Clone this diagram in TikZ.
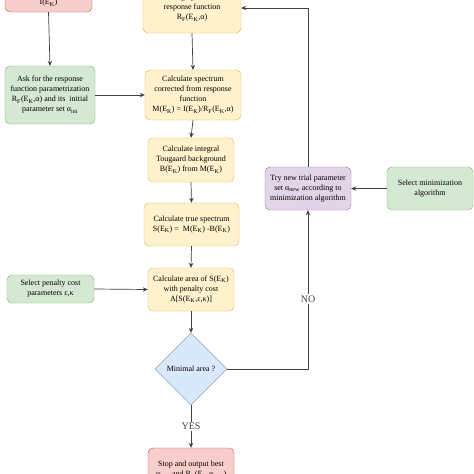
\documentclass[tikz,border=0pt]{standalone}
\usepackage{fontspec}
\setmainfont{Liberation Serif}
\usepackage{tikz}
\usetikzlibrary{arrows.meta,shapes.geometric,positioning}
\newcommand{\EK}{E\textsubscript{K}}
\newcommand{\RF}{R\textsubscript{F}}
\definecolor{ylwfill}{HTML}{FFF2CC}\definecolor{ylwline}{HTML}{D6B656}
\definecolor{grnfill}{HTML}{D5E8D4}\definecolor{grnline}{HTML}{82B366}
\definecolor{redfill}{HTML}{F8CECC}\definecolor{redline}{HTML}{B85450}
\definecolor{prpfill}{HTML}{E1D5E7}\definecolor{prpline}{HTML}{9673A6}
\definecolor{blufill}{HTML}{DAE8FC}\definecolor{bluline}{HTML}{6C8EBF}
\begin{document}
\begin{tikzpicture}[x=1pt,y=-1pt,font=\fontsize{8}{10}\selectfont,
 calc/.style={draw=ylwline,fill=ylwfill,rounded corners=5pt,align=center,inner sep=1pt,minimum width=86pt,minimum height=43pt},
 user/.style={draw=grnline,fill=grnfill,rounded corners=5pt,align=center,inner sep=1pt,minimum width=87pt,minimum height=43pt},
 term/.style={draw=redline,fill=redfill,rounded corners=5pt,align=center,inner sep=1pt,minimum width=87pt,minimum height=44pt},
 trialbox/.style={draw=prpline,fill=prpfill,rounded corners=5pt,align=center,inner sep=1pt,minimum width=86pt,minimum height=43pt},
 decision/.style={diamond,draw=bluline,fill=blufill,align=center,inner sep=0pt,minimum width=72pt,minimum height=72pt},
 arr/.style={-{Stealth[length=5pt,width=4.5pt]},black!75,line width=.7pt},
 lbl/.style={fill=white,inner sep=1.5pt,font=\fontsize{10}{12}\selectfont}]
\clip (0,0) rectangle (474,474);
\node[term,minimum height=28pt] (input) at (48.5,-2) {Measured spectrum\\I(\EK)};
\node[calc,minimum width=98pt,minimum height=50pt] (resp) at (192,8) {Setting up the trial\\response function\\\RF(\EK,α)};
\node[user,minimum width=90pt,minimum height=58pt] (ask) at (50,95) {Ask for the response\\function parametrization\\\RF(\EK,α) and its\ \ initial\\parameter set α\textsubscript{ini}};
\node[calc,minimum width=96pt,minimum height=50pt] (corr) at (193,95) {Calculate spectrum\\corrected from response\\function\\M(\EK) = I(\EK)/\RF(\EK,α)};
\node[calc,minimum height=44pt] (toug) at (191,160) {Calculate integral\\Tougaard background\\B(\EK) from M(\EK)};
\node[calc,minimum width=95pt] (true) at (191.5,224.5) {Calculate true spectrum\\S(\EK) =\ \ M(\EK) -B(\EK)};
\node[calc] (area) at (191,289.5) {Calculate area of S(\EK)\\with penalty cost\\A[S(\EK,ε,κ)]};
\node[user,minimum height=28pt] (pen) at (50.5,289) {Select penalty cost\\parameters ε,κ};
\node[decision] (dec) at (191,369) {Minimal area ?};
\node[trialbox] (trial) at (308,188.5) {Try new trial parameter\\set α\textsubscript{new} according to\\minimization algorithm};
\node[user,minimum width=86pt] (minalg) at (430,188.5) {Select minimization\\algorithm};
\node[term,minimum width=86pt] (stop) at (191,470) {Stop and output best\\α\textsubscript{best} and \RF(\EK,α\textsubscript{best})};
\draw[arr] (input.south)--(ask.north);
\draw[arr] (resp.south)--(corr.north);
\draw[arr] (ask.east)--(corr.west);
\draw[arr] (corr.south)--(toug.north);
\draw[arr] (toug.south)--(true.north);
\draw[arr] (true.south)--(area.north);
\draw[arr] (pen.east)--(area.west);
\draw[arr] (area.south)--(dec.north);
\draw[arr] (dec.east)-|node[lbl,pos=.72]{NO}(trial.south);
\draw[arr] (trial.north)|-(resp.east);
\draw[arr] (minalg.west)--(trial.east);
\draw[arr] (dec.south)--node[lbl]{YES}(stop.north);
\end{tikzpicture}
\end{document}
